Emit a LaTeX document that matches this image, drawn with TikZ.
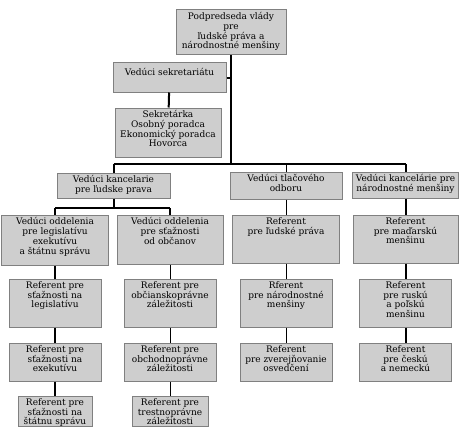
\documentclass[tikz,border=0pt]{standalone}
\usepackage{fontspec}
\setmainfont{DejaVu Serif}
\usepackage{xcolor}
\usepackage{tikz}
\usetikzlibrary{positioning}

\definecolor{boxfill}{RGB}{206,206,206}
\definecolor{boxline}{RGB}{128,128,128}

\begin{document}
\begin{tikzpicture}[
    x=1pt, y=-1pt,
    box/.style={rectangle, draw=boxline, fill=boxfill, line width=1pt, inner sep=0pt},
    sz/.style 2 args={minimum width=#1pt, minimum height=#2pt},
    txt/.style={anchor=north, align=center, inner sep=0pt, yshift=-3pt,
        font=\fontsize{9}{9.7}\selectfont},
    link/.style={line width=2pt},
    thinlink/.style={line width=1pt}
]
    \useasboundingbox (0,0) rectangle (463,436);

    % vedenie
    \node (vlada) [box, sz={110}{45}, label={[txt]north:Podpredseda vlády\\pre\\ľudské práva a\\národnostné menšiny}] at (231,32.5) {};
    \node (sekr) [box, sz={113}{29}, label={[txt, yshift=-3pt]north:Vedúci sekretariátu}] at (169.5,77.5) {};
    \node (poradcovia) [box, sz={106}{49}, label={[txt]north:Sekretárka\\Osobný poradca\\Ekonomický poradca\\Hovorca}] at (168,132.5) {};

    % veduci kancelarii
    \node (kanc) [box, sz={113}{25}, label={[txt]north:Vedúci kancelarie\\pre ľudske prava}] at (113.5,185.5) {};
    \node (tlac) [box, sz={112}{27}, label={[txt]north:Vedúci tlačového\\odboru}] at (286,185.5) {};
    \node (narod) [box, sz={106}{26}, label={[txt]north:Vedúci kancelárie pre\\národnostné menšiny}] at (405.5,185) {};

    % oddelenia
    \node (odd1) [box, sz={107}{50}, label={[txt]north:Vedúci oddelenia\\pre legislatívu\\exekutívu\\a štátnu správu}] at (55,240) {};
    \node (odd2) [box, sz={106}{49}, label={[txt]north:Vedúci oddelenia\\pre sťažnosti\\od občanov}] at (170,239.5) {};
    \node (ludprava) [box, sz={107}{48}, label={[txt]north:Referent\\pre ľudské práva}] at (286,239) {};
    \node (madar) [box, sz={105}{48}, label={[txt]north:Referent\\pre maďarskú\\menšinu}] at (405.5,239) {};

    % referenti
    \node (leg) [box, sz={92}{48}, label={[txt]north:Referent pre\\sťažnosti na\\legislatívu}] at (55,303) {};
    \node (obc) [box, sz={92}{48}, label={[txt]north:Referent pre\\občianskoprávne\\záležitosti}] at (170,303) {};
    \node (rfer) [box, sz={92}{48}, label={[txt]north:Rferent\\pre národnostné\\menšiny}] at (286,303) {};
    \node (rusk) [box, sz={92}{48}, label={[txt]north:Referent\\pre ruskú\\a poľskú\\menšinu}] at (405.5,303) {};

    \node (exek) [box, sz={92}{38}, label={[txt]north:Referent pre\\sťažnosti na\\exekutívu}] at (55,362) {};
    \node (obch) [box, sz={92}{38}, label={[txt]north:Referent pre\\obchodnoprávne\\záležitosti}] at (170,362) {};
    \node (zverej) [box, sz={92}{38}, label={[txt]north:Referent\\pre zverejňovanie\\osvedčení}] at (286,362) {};
    \node (cesk) [box, sz={92}{38}, label={[txt]north:Referent\\pre českú\\a nemeckú}] at (405.5,362) {};

    \node (stat) [box, sz={74}{30}, label={[txt]north:Referent pre\\sťažnosti na\\štátnu správu}] at (55,411) {};
    \node (trest) [box, sz={76}{30}, label={[txt]north:Referent pre\\trestnoprávne\\záležitosti}] at (170,411) {};

    \coordinate (bar) at (231,164);
    \coordinate (subbar) at (113.5,208);

    \draw [link] (vlada) -- (bar);
    \draw [link] (sekr) -- (sekr -| bar);
    \draw [link] (sekr) -- (poradcovia);
    \draw [link] (kanc |- bar) -- (narod |- bar);
    \draw [link] (kanc |- bar) -- (kanc);
    \draw [thinlink] (tlac |- bar) -- (tlac);
    \draw [link] (narod |- bar) -- (narod);

    \draw [link] (kanc) -- (subbar);
    \draw [link] (odd1 |- subbar) -- (odd2 |- subbar);
    \draw [link] (odd1 |- subbar) -- (odd1);
    \draw [link] (odd2 |- subbar) -- (odd2);

    \draw [link] (odd1) -- (leg);
    \draw [link] (leg) -- (exek);
    \draw [link] (exek) -- (stat);
    \draw [thinlink] (odd2) -- (obc);
    \draw [thinlink] (obc) -- (obch);
    \draw [thinlink] (obch) -- (trest);
    \draw [thinlink] (tlac) -- (ludprava);
    \draw [thinlink] (ludprava) -- (rfer);
    \draw [thinlink] (rfer) -- (zverej);
    \draw [link] (narod) -- (madar);
    \draw [link] (madar) -- (rusk);
    \draw [link] (rusk) -- (cesk);
\end{tikzpicture}
\end{document}
